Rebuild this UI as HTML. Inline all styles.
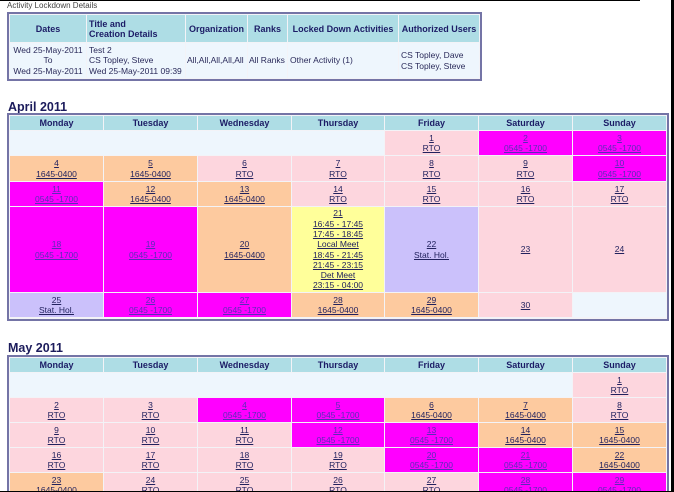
<!DOCTYPE html>
<html style="margin:0;overflow:hidden"><head><meta charset="utf-8">
<style>
html,body{margin:0;padding:0;overflow:hidden;width:674px;height:492px}
#w{position:relative;width:674px;height:492px;overflow:hidden;background:#fff;font-family:"Liberation Sans",Arial,sans-serif}
.box{position:absolute;border:2px solid #7474a6;background:#f3f3f7;box-sizing:border-box}
.c{position:absolute;display:flex;align-items:center;justify-content:center;text-align:center;font-size:8.5px;line-height:10.3px;color:#22225e;white-space:nowrap}
.h{position:absolute;display:flex;align-items:center;justify-content:center;background:#aedde5;font-weight:bold;font-size:9px;color:#1c1c66;white-space:nowrap}
.p{background:#fdd6de}.o{background:#fdca9f}.m{background:#ff00ff;color:#5a2cb8}.y{background:#ffff9a}.l{background:#cbc1fb}.e{background:#eef6fd}
.k0{left:10px;width:93px}.k1{left:104px;width:93px}.k2{left:198px;width:93px}.k3{left:292px;width:92px}.k4{left:385px;width:93px}.k5{left:479px;width:93px}.k6{left:573px;width:93px}
.a0{top:116px;height:14px}.a1{top:131px;height:24px}.a2{top:156px;height:25px}.a3{top:182px;height:24px}.a4{top:207px;height:85px}.a5{top:293px;height:24px}
.b0{top:358px;height:14px}.b1{top:373px;height:24px}.b2{top:398px;height:24px}.b3{top:423px;height:24px}.b4{top:448px;height:24px}.b5{top:473px;height:24px}
.d{position:absolute;top:43px;height:35px;background:#eef6fd;display:flex;align-items:center;font-size:8.5px;line-height:10.5px;color:#2a2a5a;white-space:nowrap}
.dh{position:absolute;top:15px;height:27px;background:#aedde5;display:flex;align-items:center;font-weight:bold;font-size:9px;line-height:10px;color:#1c1c66;white-space:nowrap}
.ttl{position:absolute;font-weight:bold;font-size:12.5px;color:#1c1c5c;line-height:14px}
</style></head><body><div id="w">

<div style="position:absolute;left:7px;top:1px;font-size:8px;line-height:10px;color:#444">Activity Lockdown Details</div>

<div class="box" style="left:7px;top:12px;width:475px;height:69px"></div>
<div class="dh" style="left:10px;width:76px;justify-content:center">Dates</div>
<div class="dh" style="left:87px;width:96px;padding-left:2px">Title and<br>Creation Details</div>
<div class="dh" style="left:186px;width:61px;justify-content:center">Organization</div>
<div class="dh" style="left:248px;width:39px;justify-content:center">Ranks</div>
<div class="dh" style="left:288px;width:110px;justify-content:center">Locked Down Activities</div>
<div class="dh" style="left:399px;width:80px;justify-content:center">Authorized Users</div>
<div class="d" style="left:10px;width:76px;justify-content:center;text-align:center">Wed 25-May-2011<br>To<br>Wed 25-May-2011</div>
<div class="d" style="left:87px;width:96px;padding-left:2px">Test 2<br>CS Topley, Steve<br>Wed 25-May-2011 09:39</div>
<div class="d" style="left:186px;width:60px;padding-left:1px">All,All,All,All,All</div>
<div class="d" style="left:248px;width:38px;padding-left:1px">All Ranks</div>
<div class="d" style="left:288px;width:108px;padding-left:2px">Other Activity (1)</div>
<div class="d" style="left:399px;width:78px;padding-left:2px">CS Topley, Dave<br>CS Topley, Steve</div>

<div class="ttl" style="left:8px;top:100px">April 2011</div>
<div class="box" style="left:7px;top:113px;width:662px;height:208px"></div>
<div class="h k0 a0">Monday</div><div class="h k1 a0">Tuesday</div><div class="h k2 a0">Wednesday</div><div class="h k3 a0">Thursday</div><div class="h k4 a0">Friday</div><div class="h k5 a0">Saturday</div><div class="h k6 a0">Sunday</div>

<div class="c e a1" style="left:10px;width:374px"></div>
<div class="c p k4 a1"><div><u>1</u><br><u>RTO</u></div></div>
<div class="c m k5 a1"><div><u>2</u><br><u>0545 -1700</u></div></div>
<div class="c m k6 a1"><div><u>3</u><br><u>0545 -1700</u></div></div>

<div class="c o k0 a2"><div><u>4</u><br><u>1645-0400</u></div></div>
<div class="c o k1 a2"><div><u>5</u><br><u>1645-0400</u></div></div>
<div class="c p k2 a2"><div><u>6</u><br><u>RTO</u></div></div>
<div class="c p k3 a2"><div><u>7</u><br><u>RTO</u></div></div>
<div class="c p k4 a2"><div><u>8</u><br><u>RTO</u></div></div>
<div class="c p k5 a2"><div><u>9</u><br><u>RTO</u></div></div>
<div class="c m k6 a2"><div><u>10</u><br><u>0545 -1700</u></div></div>

<div class="c m k0 a3"><div><u>11</u><br><u>0545 -1700</u></div></div>
<div class="c o k1 a3"><div><u>12</u><br><u>1645-0400</u></div></div>
<div class="c o k2 a3"><div><u>13</u><br><u>1645-0400</u></div></div>
<div class="c p k3 a3"><div><u>14</u><br><u>RTO</u></div></div>
<div class="c p k4 a3"><div><u>15</u><br><u>RTO</u></div></div>
<div class="c p k5 a3"><div><u>16</u><br><u>RTO</u></div></div>
<div class="c p k6 a3"><div><u>17</u><br><u>RTO</u></div></div>

<div class="c m k0 a4"><div><u>18</u><br><u>0545 -1700</u></div></div>
<div class="c m k1 a4"><div><u>19</u><br><u>0545 -1700</u></div></div>
<div class="c o k2 a4"><div><u>20</u><br><u>1645-0400</u></div></div>
<div class="c y k3 a4"><div><u>21</u><br><u>16:45 - 17:45</u><br><u>17:45 - 18:45</u><br><u>Local Meet</u><br><u>18:45 - 21:45</u><br><u>21:45 - 23:15</u><br><u>Det Meet</u><br><u>23:15 - 04:00</u></div></div>
<div class="c l k4 a4"><div><u>22</u><br><u>Stat. Hol.</u></div></div>
<div class="c p k5 a4"><div><u>23</u></div></div>
<div class="c p k6 a4"><div><u>24</u></div></div>

<div class="c l k0 a5"><div><u>25</u><br><u>Stat. Hol.</u></div></div>
<div class="c m k1 a5"><div><u>26</u><br><u>0545 -1700</u></div></div>
<div class="c m k2 a5"><div><u>27</u><br><u>0545 -1700</u></div></div>
<div class="c o k3 a5"><div><u>28</u><br><u>1645-0400</u></div></div>
<div class="c o k4 a5"><div><u>29</u><br><u>1645-0400</u></div></div>
<div class="c p k5 a5"><div><u>30</u></div></div>
<div class="c e k6 a5"></div>

<div class="ttl" style="left:8px;top:341px">May 2011</div>
<div class="box" style="left:7px;top:355px;width:662px;height:160px"></div>
<div class="h k0 b0">Monday</div><div class="h k1 b0">Tuesday</div><div class="h k2 b0">Wednesday</div><div class="h k3 b0">Thursday</div><div class="h k4 b0">Friday</div><div class="h k5 b0">Saturday</div><div class="h k6 b0">Sunday</div>

<div class="c e b1" style="left:10px;width:562px"></div>
<div class="c p k6 b1"><div><u>1</u><br><u>RTO</u></div></div>

<div class="c p k0 b2"><div><u>2</u><br><u>RTO</u></div></div>
<div class="c p k1 b2"><div><u>3</u><br><u>RTO</u></div></div>
<div class="c m k2 b2"><div><u>4</u><br><u>0545 -1700</u></div></div>
<div class="c m k3 b2"><div><u>5</u><br><u>0545 -1700</u></div></div>
<div class="c o k4 b2"><div><u>6</u><br><u>1645-0400</u></div></div>
<div class="c o k5 b2"><div><u>7</u><br><u>1645-0400</u></div></div>
<div class="c p k6 b2"><div><u>8</u><br><u>RTO</u></div></div>

<div class="c p k0 b3"><div><u>9</u><br><u>RTO</u></div></div>
<div class="c p k1 b3"><div><u>10</u><br><u>RTO</u></div></div>
<div class="c p k2 b3"><div><u>11</u><br><u>RTO</u></div></div>
<div class="c m k3 b3"><div><u>12</u><br><u>0545 -1700</u></div></div>
<div class="c m k4 b3"><div><u>13</u><br><u>0545 -1700</u></div></div>
<div class="c o k5 b3"><div><u>14</u><br><u>1645-0400</u></div></div>
<div class="c o k6 b3"><div><u>15</u><br><u>1645-0400</u></div></div>

<div class="c p k0 b4"><div><u>16</u><br><u>RTO</u></div></div>
<div class="c p k1 b4"><div><u>17</u><br><u>RTO</u></div></div>
<div class="c p k2 b4"><div><u>18</u><br><u>RTO</u></div></div>
<div class="c p k3 b4"><div><u>19</u><br><u>RTO</u></div></div>
<div class="c m k4 b4"><div><u>20</u><br><u>0545 -1700</u></div></div>
<div class="c m k5 b4"><div><u>21</u><br><u>0545 -1700</u></div></div>
<div class="c o k6 b4"><div><u>22</u><br><u>1645-0400</u></div></div>

<div class="c o k0 b5"><div><u>23</u><br><u>1645-0400</u></div></div>
<div class="c p k1 b5"><div><u>24</u><br><u>RTO</u></div></div>
<div class="c p k2 b5"><div><u>25</u><br><u>RTO</u></div></div>
<div class="c p k3 b5"><div><u>26</u><br><u>RTO</u></div></div>
<div class="c p k4 b5"><div><u>27</u><br><u>RTO</u></div></div>
<div class="c m k5 b5"><div><u>28</u><br><u>0545 -1700</u></div></div>
<div class="c m k6 b5"><div><u>29</u><br><u>0545 -1700</u></div></div>

<div style="position:absolute;left:0;top:0;width:640px;height:1px;background:#000"></div>
<div style="position:absolute;left:671px;top:0;width:3px;height:492px;background:#000"></div>
<div style="position:absolute;left:0;top:491px;width:674px;height:1px;background:#000"></div>
</div></body></html>
